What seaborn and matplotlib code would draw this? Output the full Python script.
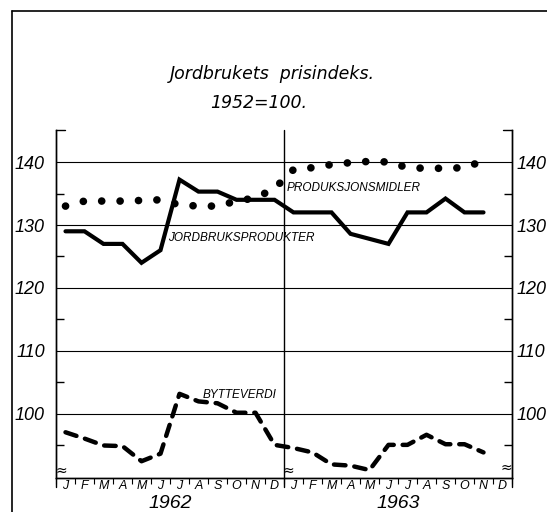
import numpy as np
import pandas as pd
import matplotlib
matplotlib.use("Agg")
import matplotlib.pyplot as plt
from matplotlib.lines import Line2D
from matplotlib import font_manager
import seaborn as sns

# monthly index values, 1962 (Jan-Dec) and 1963 (Jan-Nov)
months = ["J", "F", "M", "A", "M", "J", "J", "A", "S", "O", "N", "D"]
years = ["1962", "1963"]
jordbruksprodukter = [129, 129, 127, 127, 124, 126, 137.2, 135.3, 135.3, 134, 134, 134,
                      132, 132, 132, 128.6, 127.8, 127, 132, 132, 134.2, 132, 132]
produksjonsmidler = [133.0, 133.8, 133.8, 133.8, 133.9, 134.0, 133.2, 133.0, 133.0, 133.8, 134.3, 135.8,
                     138.8, 139.1, 139.6, 139.9, 140.1, 140.0, 139.1, 139.0, 139.0, 139.1, 140.2]
bytteverdi = [97.1, 96.1, 95.0, 94.9, 92.5, 93.7, 103.2, 102.0, 101.7, 100.2, 100.2, 95.1,
              94.6, 93.9, 92.0, 91.8, 91.1, 95.1, 95.1, 96.7, 95.2, 95.2, 93.9]
series_labels = ["JORDBRUKSPRODUKTER", "PRODUKSJONSMIDLER", "BYTTEVERDI"]
yticks = [100, 110, 120, 130, 140]

sns.set_theme(style="white")
installed = {f.name for f in font_manager.fontManager.ttflist}
narrow = [f for f in ["DejaVu Sans Condensed", "Liberation Sans Narrow", "Liberation Sans"]
          if f in installed] + ["DejaVu Sans"]
plt.rcParams["font.family"] = narrow
plt.rcParams["font.style"] = "italic"
plt.rcParams["text.color"] = "black"
plt.rcParams["xtick.color"] = "black"
plt.rcParams["ytick.color"] = "black"

df = pd.DataFrame({
    "pos": np.arange(len(jordbruksprodukter)) + 0.5,
    "jord": jordbruksprodukter,
    "prod": produksjonsmidler,
    "bytte": bytteverdi,
})

fig = plt.figure(figsize=(5.47, 5.12), dpi=100)
ax = fig.add_axes([56 / 547, 1 - 478 / 512, (512 - 56) / 547, (478 - 130) / 512])

sns.lineplot(data=df, x="pos", y="jord", ax=ax, color="black", linewidth=3.0,
             solid_capstyle="round", solid_joinstyle="miter")
sns.lineplot(data=df, x="pos", y="prod", ax=ax, color="black", linewidth=5.5,
             linestyle=(0, (0.01, 2.4)), dash_capstyle="round")
sns.lineplot(data=df, x="pos", y="bytte", ax=ax, color="black", linewidth=3.2,
             linestyle=(0, (2.6, 2.0)), dash_capstyle="round")

ax.set_xlim(0, 24)
ax.set_ylim(89.84, 145.08)
ax.set_xlabel("")
ax.set_ylabel("")

for y in yticks:
    ax.axhline(y, color="black", lw=0.8, zorder=0)

# y axis both sides
ax.set_yticks(yticks)
ax.set_yticks([95, 105, 115, 125, 135], minor=True)
ax.tick_params(axis="y", which="major", length=0, pad=8, labelsize=13, labelcolor="black")
ax.tick_params(axis="y", which="minor", direction="in", length=6, width=1, left=True, color="black")
ax2 = ax.twinx()
ax2.set_ylim(ax.get_ylim())
ax2.set_yticks(yticks)
ax2.set_yticks([95, 105, 115, 125, 135], minor=True)
ax2.tick_params(axis="y", which="major", length=0, pad=3, labelsize=13, labelcolor="black")
ax2.tick_params(axis="y", which="minor", direction="in", length=6, width=1, right=True, color="black")

# x axis months
ax.set_xticks(np.arange(24) + 0.5)
ax.set_xticklabels(months * 2)
ax.set_xticks(np.arange(25), minor=True)
ax.tick_params(axis="x", which="major", length=0, pad=1.5, labelsize=9, labelcolor="black")
ax.tick_params(axis="x", which="minor", direction="out", length=4, width=0.8, bottom=True, color="black")

for a in (ax, ax2):
    a.spines["top"].set_visible(False)
    for s in ("left", "right", "bottom"):
        a.spines[s].set_color("black")
        a.spines[s].set_linewidth(1.0)
    a.grid(False)

# year divider and spine extensions below the axis
ax.axvline(12, ymin=-0.026, ymax=1, color="black", lw=1.0, clip_on=False)
ax.plot([0, 0], [0, -0.026], transform=ax.transAxes, color="black", lw=1.0, clip_on=False)
ax.plot([1, 1], [0, -0.026], transform=ax.transAxes, color="black", lw=1.0, clip_on=False)
ax.plot([0, 0.02], [1, 1], transform=ax.transAxes, color="black", lw=1.0, clip_on=False)
ax.plot([0.98, 1], [1, 1], transform=ax.transAxes, color="black", lw=1.0, clip_on=False)

# axis break marks
ax.text(0.012, 0.022, "≈", transform=ax.transAxes, fontsize=10, ha="center", va="center",
        family="DejaVu Sans")
ax.text(12.25, 0.022, "≈", transform=ax.get_xaxis_transform(), fontsize=10, ha="center",
        va="center", family="DejaVu Sans")
ax.text(0.988, 0.028, "≈", transform=ax.transAxes, fontsize=10, ha="center", va="center",
        family="DejaVu Sans")

# year labels
for i, yr in enumerate(years):
    ax.text(6 + 12 * i, -0.072, yr, transform=ax.get_xaxis_transform(), fontsize=14,
            ha="center", va="center")

# series labels
ax.text(5.9, 127.9, series_labels[0], fontsize=8.5, ha="left", va="center")
ax.text(12.16, 135.9, series_labels[1], fontsize=8.5, ha="left", va="center")
ax.text(7.72, 103.0, series_labels[2], fontsize=8.5, ha="left", va="center")

# titles
fig.text(272 / 547, 1 - 74 / 512, "Jordbrukets  prisindeks.", fontsize=12.5, ha="center",
         va="center", family=["DejaVu Sans"], style="oblique")
fig.text(259 / 547, 1 - 103 / 512, "1952=100.", fontsize=12.5, ha="center", va="center",
         family=["DejaVu Sans"], style="oblique")

# outer frame
fig.add_artist(Line2D([12 / 547, 12 / 547], [0, 1 - 11 / 512], color="black", lw=1.2))
fig.add_artist(Line2D([12 / 547, 1], [1 - 11 / 512, 1 - 11 / 512], color="black", lw=1.2))

fig.savefig("out.png", dpi=100, facecolor="white")
